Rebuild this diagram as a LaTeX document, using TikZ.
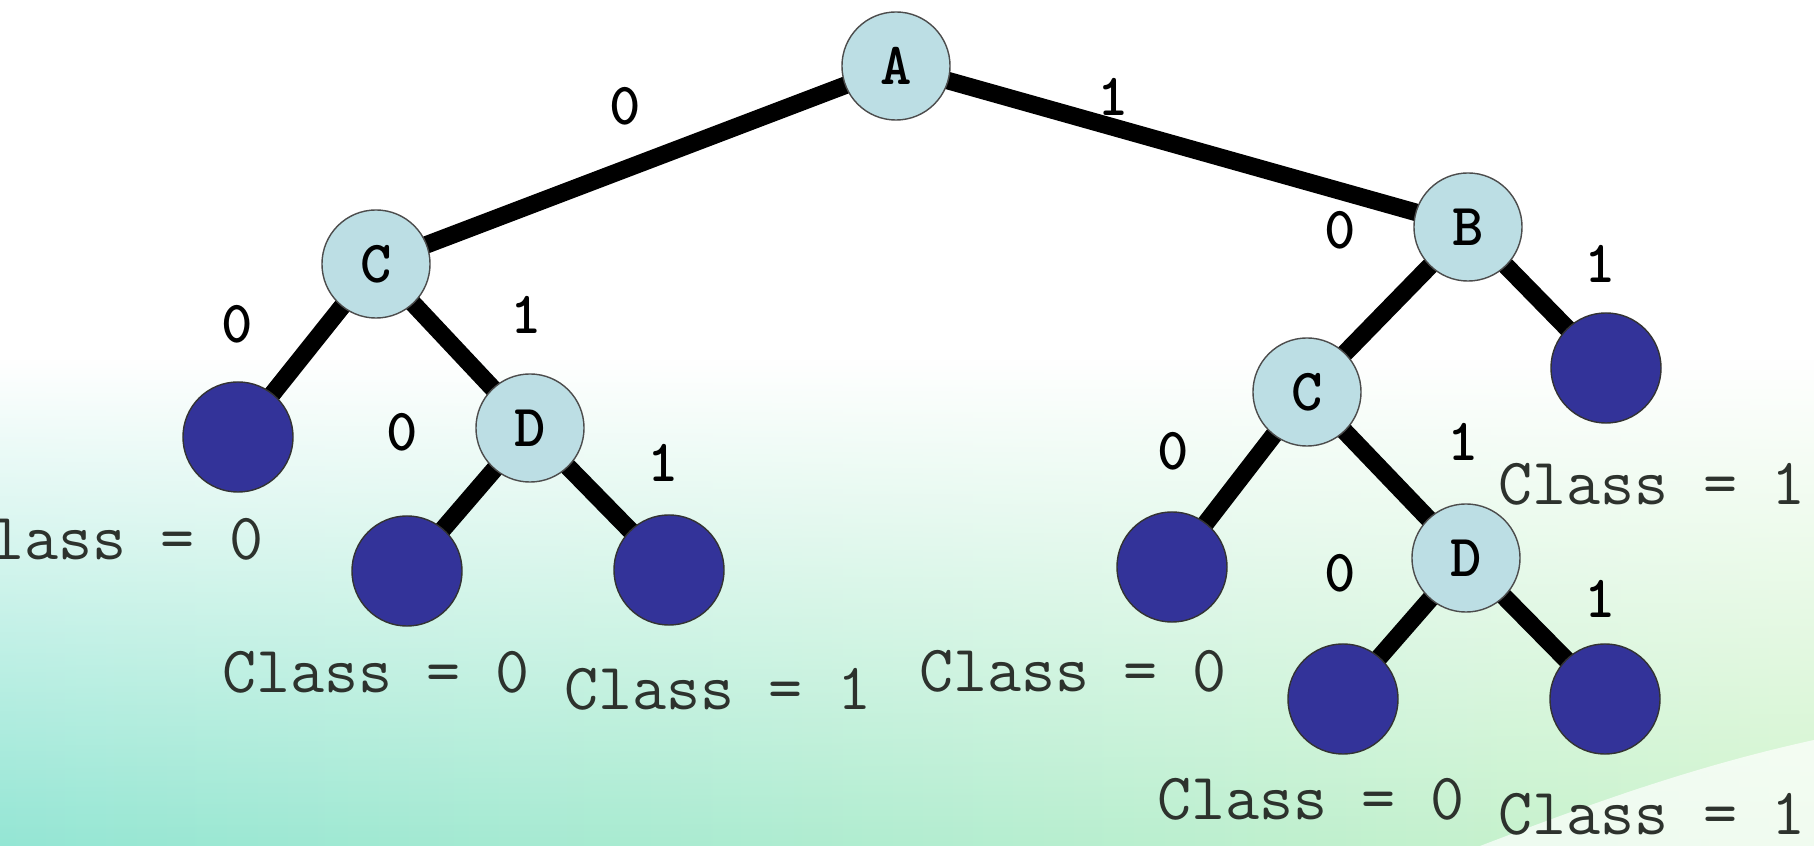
\documentclass[tikz,border=0pt]{standalone}
\usetikzlibrary{fadings}

\definecolor{splitfill}{RGB}{188,222,228}
\definecolor{leaffill}{RGB}{51,51,153}
\definecolor{mintleft}{RGB}{148,230,212}
\definecolor{mintright}{RGB}{208,244,204}
\definecolor{classtext}{RGB}{45,50,45}

\pgfdeclarelayer{bg}
\pgfdeclarelayer{edges}
\pgfsetlayers{bg,edges,main}

\tikzset{
  split/.style={circle, draw=black!70, thin, fill=splitfill, minimum size=1.08cm,
    inner sep=0pt, font=\fontsize{17}{17}\selectfont\ttfamily\bfseries},
  leaf/.style={circle, draw=black!80, thin, fill=leaffill, minimum size=1.1cm, inner sep=0pt},
  branch/.style={line width=5pt},
  bit/.style={font=\fontsize{17}{17}\selectfont\ttfamily\bfseries, inner sep=0pt},
  cls/.style={font=\fontsize{18.8}{19}\selectfont\ttfamily, text=classtext, inner sep=0pt, anchor=base west},
}

\begin{document}
\begin{tikzpicture}[x=0.01cm, y=-0.01cm]
\useasboundingbox (0,0) rectangle (1814,846);

% backdrop
\begin{pgfonlayer}{bg}
\fill[white] (0,0) rectangle (1814,846);
\shade[left color=mintleft, right color=mintright, path fading=north] (0,360) rectangle (1814,846);
\fill[white, opacity=.7] (1480,846) .. controls (1600,800) and (1700,765) .. (1814,740) -- (1814,846) -- cycle;
\end{pgfonlayer}

% tests
\node[split] (a)  at (896,66)   {A};
\node[split] (c1) at (376,264)  {C};
\node[split] (b)  at (1468,227) {B};
\node[split] (d1) at (530,428)  {D};
\node[split] (c2) at (1307,392) {C};
\node[split] (d2) at (1466,558) {D};

% leaves
\node[leaf] (l1) at (238,437)  {};
\node[leaf] (l2) at (407,571)  {};
\node[leaf] (l3) at (669,570)  {};
\node[leaf] (l4) at (1172,567) {};
\node[leaf] (l5) at (1606,368) {};
\node[leaf] (l6) at (1343,699) {};
\node[leaf] (l7) at (1605,699) {};

\begin{pgfonlayer}{edges}
\foreach \u/\v in {a/c1,a/b,c1/l1,c1/d1,d1/l2,d1/l3,b/c2,b/l5,c2/l4,c2/d2,d2/l6,d2/l7}
  \draw[branch] (\u.center) -- (\v.center);
\end{pgfonlayer}

% branch values
\foreach \n/\x/\y/\t in {ac/625/106/0, ab/1113/97/1, cl/237/324/0, cd/526/315/1,
    dl/402/432/0, dr/663/463/1, bc/1340/230/0, bl/1600/264/1,
    el/1173/451/0, ed/1463/442/1, fl/1340/573/0, fr/1600/599/1}
  \node[bit] (v\n) at (\x,\y) {\t};

% outcomes
\node[cls] (k1) at (-44,560) {Class = 0};
\node[cls] (k2) at (222,693) {Class = 0};
\node[cls] (k3) at (564,710) {Class = 1};
\node[cls] (k4) at (919,692) {Class = 0};
\node[cls] (k5) at (1498,505) {Class = 1};
\node[cls] (k6) at (1157,820) {Class = 0};
\node[cls] (k7) at (1498,834) {Class = 1};
\end{tikzpicture}
\end{document}
